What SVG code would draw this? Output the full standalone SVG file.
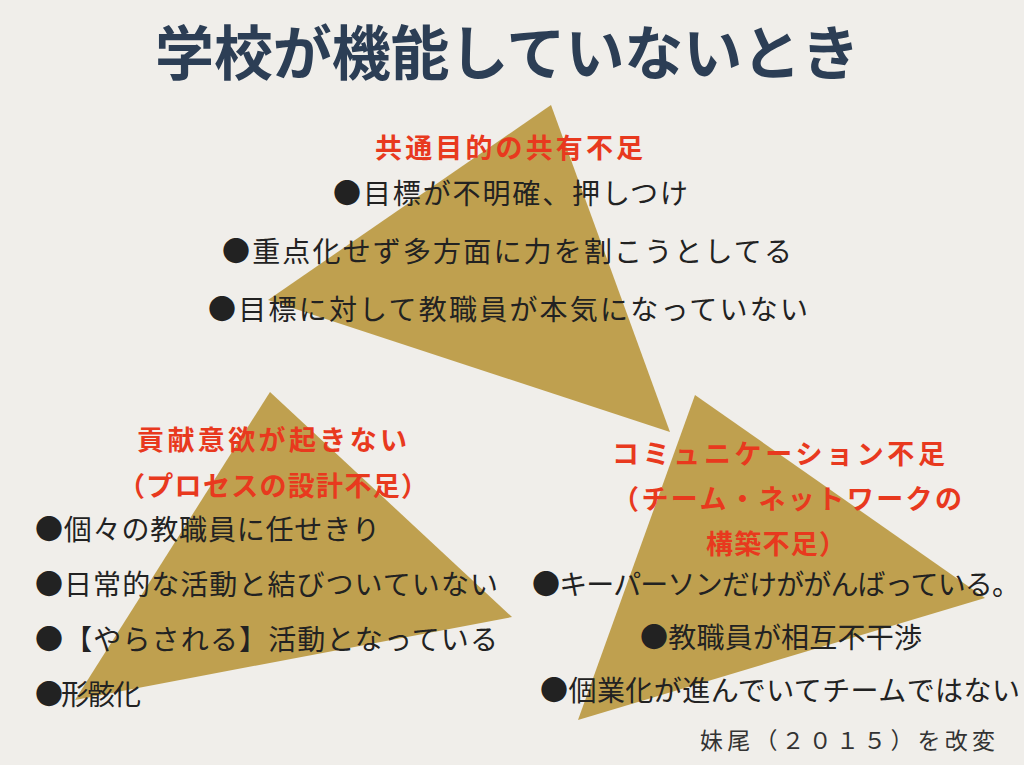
<svg xmlns="http://www.w3.org/2000/svg" width="1024" height="765" viewBox="0 0 1024 765">
<style>
.t{font-family:"Noto Sans CJK JP",sans-serif;font-weight:bold;fill:#2c3e55;font-size:59px}
.r{font-family:"Noto Sans CJK JP",sans-serif;font-weight:bold;fill:#e8391e;font-size:27px}
.b{font-family:"Noto Sans CJK JP",sans-serif;fill:#222;font-size:28px}
.c{font-family:"Noto Sans CJK JP",sans-serif;fill:#333;font-size:23px}
.tri{fill:#bfa04f}
</style>
<rect width="1024" height="765" fill="#f0eeea"/>
<text class="t" x="155" y="75" textLength="705" lengthAdjust="spacing">学校が機能していないとき</text>
<g id="top">
<polygon class="tri" points="551,105 268,300 670,432"/>
<text class="r" x="375" y="158" textLength="268" lengthAdjust="spacing">共通目的の共有不足</text>
<text class="b" x="333" y="204" textLength="355" lengthAdjust="spacing">●目標が不明確、押しつけ</text>
<text class="b" x="222" y="262" textLength="570" lengthAdjust="spacing">●重点化せず多方面に力を割こうとしてる</text>
<text class="b" x="208" y="320" textLength="600" lengthAdjust="spacing">●目標に対して教職員が本気になっていない</text>
</g>
<g id="left">
<polygon class="tri" points="270,392 75,700 512,617"/>
<text class="r" x="137" y="450" textLength="270" lengthAdjust="spacing">貢献意欲が起きない</text>
<text class="r" x="118" y="496" textLength="310" lengthAdjust="spacing">（プロセスの設計不足）</text>
<text class="b" x="35" y="540" textLength="345" lengthAdjust="spacing">●個々の教職員に任せきり</text>
<text class="b" x="35" y="595" textLength="463" lengthAdjust="spacing">●日常的な活動と結びついていない</text>
<text class="b" x="35" y="650" textLength="463" lengthAdjust="spacing">●【やらされる】活動となっている</text>
<text class="b" x="35" y="705" textLength="106" lengthAdjust="spacing">●形骸化</text>
</g>
<g id="right">
<polygon class="tri" points="695,395 578,720 985,598"/>
<text class="r" x="612" y="464" textLength="333" lengthAdjust="spacing">コミュニケーション不足</text>
<text class="r" x="612" y="509" textLength="350" lengthAdjust="spacing">（チーム・ネットワークの</text>
<text class="r" x="706" y="554" textLength="140" lengthAdjust="spacing">構築不足）</text>
<text class="b" x="532" y="595" textLength="488" lengthAdjust="spacing">●キーパーソンだけががんばっている。</text>
<text class="b" x="640" y="648" textLength="282" lengthAdjust="spacing">●教職員が相互不干渉</text>
<text class="b" x="540" y="701" textLength="480" lengthAdjust="spacing">●個業化が進んでいてチームではない</text>
</g>
<g id="connectors"/>
<text class="c" x="700" y="749" textLength="295" lengthAdjust="spacing">妹尾（２０１５）を改変</text>
</svg>
